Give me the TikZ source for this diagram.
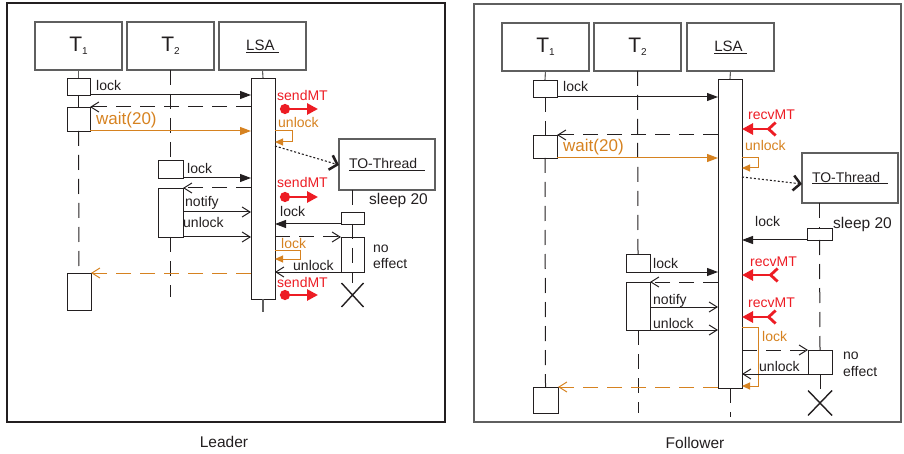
\documentclass[tikz,border=0pt]{standalone}
\usepackage{fontspec}
\setmainfont{Liberation Sans}
\usetikzlibrary{arrows.meta,shapes.misc}

\definecolor{inkgray}{RGB}{35,31,32}
\definecolor{boxgray}{RGB}{95,95,95}
\definecolor{lockorange}{RGB}{214,130,32}
\definecolor{mtred}{RGB}{237,28,36}

\newcommand{\tname}[1]{{\fontsize{21}{24}\selectfont T}\raisebox{-3pt}{\fontsize{10}{10}\selectfont #1}}

\tikzset{
  lifebox/.style={draw=boxgray, line width=1.3pt, anchor=north west, inner sep=0pt, outer sep=0pt,
    minimum width=87pt, minimum height=48pt, text=inkgray, font=\fontsize{15}{18}\selectfont},
  threadbox/.style={draw=boxgray, line width=1.1pt, anchor=north west, inner sep=0pt, outer sep=0pt,
    minimum width=96pt, minimum height=51pt, text=inkgray, font=\fontsize{14}{16}\selectfont},
  actbox/.style={draw=inkgray, line width=0.9pt, anchor=north west, inner sep=0pt, outer sep=0pt},
  endmark/.style={cross out, draw=inkgray, line width=1.4pt, inner sep=0pt, outer sep=0pt,
    minimum width=22pt, minimum height=24pt},
  solidline/.style={draw=boxgray, line width=1.1pt},
  lifeline/.style={draw=inkgray, line width=1pt, dash pattern=on 15pt off 9pt},
  callmsg/.style={draw=inkgray, line width=1pt, -{Triangle[length=11pt,width=8pt]}},
  asyncmsg/.style={draw=inkgray, line width=1pt, -{Straight Barb[length=8pt,width=10pt]}},
  retmsg/.style={asyncmsg, dash pattern=on 15pt off 9pt},
  waitmsg/.style={draw=lockorange, line width=1pt, -{Triangle[length=11pt,width=8pt]}},
  orgloop/.style={draw=lockorange, line width=1pt, -{Triangle[length=8pt,width=7pt]}},
  orgret/.style={draw=lockorange, line width=1pt, dash pattern=on 15pt off 9pt, -{Straight Barb[length=8pt,width=10pt]}},
  timermsg/.style={draw=inkgray, line width=1.1pt, dash pattern=on 2pt off 2pt, -{Straight Barb[length=7pt,width=15pt,line width=2.5pt]}},
  sendmt/.style={draw=mtred, line width=2.8pt, {Circle[length=10pt]}-{Triangle[length=11pt,width=11pt]}},
  recvmt/.style={draw=mtred, line width=2.8pt, {Straight Barb[reversed,length=7pt,width=13pt]}-{Triangle[length=11pt,width=11pt]}},
  lbl/.style={anchor=base west, inner sep=0pt, text=inkgray, font=\fontsize{14}{16}\selectfont},
  orglbl/.style={lbl, text=lockorange},
  mtlbl/.style={lbl, text=mtred},
  caption/.style={anchor=base, inner sep=0pt, text=inkgray, font=\fontsize{15.5}{18}\selectfont}
}

\begin{document}
\begin{tikzpicture}[x=1pt,y=-1pt]
\useasboundingbox (0,0) rectangle (904,454);

% Leader
\begin{scope}
\draw[inkgray, line width=1.3pt] (7,3) rectangle (445,422);
\node[caption] (capL) at (224,447) {Leader};

\node[lifebox] (t1L) at (35,22) {\tname{1}};
\node[lifebox] (t2L) at (127,22) {\tname{2}};
\node[lifebox] (lsaL) at (219,22) {\underline{LSA\ }};
\node[threadbox] (toL) at (339,139) {\underline{TO-Thread\ \ }};

\node[actbox, minimum width=23pt, minimum height=17pt] (t1aL) at (67,78) {};
\node[actbox, minimum width=23pt, minimum height=24pt] (t1bL) at (67,107) {};
\node[actbox, minimum width=24pt, minimum height=37pt] (t1cL) at (67,273) {};
\node[actbox, minimum width=25pt, minimum height=18pt] (t2aL) at (158,160) {};
\node[actbox, minimum width=25pt, minimum height=49pt] (t2bL) at (158,188) {};
\node[actbox, minimum width=24pt, minimum height=221pt] (lsaAL) at (251,78) {};
\node[actbox, minimum width=23pt, minimum height=12pt] (slL) at (341,212) {};
\node[actbox, minimum width=23pt, minimum height=35pt] (neL) at (341,237) {};
\node[endmark] (toxL) at (352.5,295) {};
\coordinate (t2endL) at (170.5,297);
\coordinate (lsaendL) at (263,312);

\draw[solidline] (t1L.south) -- (t1aL.north);
\draw[lifeline] (t1aL.south) -- (t1bL.north);
\draw[lifeline] (t1bL.south) -- (t1cL.north);
\draw[lifeline] (t2L.south) -- (t2aL.north);
\draw[lifeline] (t2bL.south) -- (t2endL);
\draw[solidline] (lsaL.south) -- (lsaAL.north);
\draw[solidline] (lsaAL.south) -- (lsaendL);
\draw[lifeline] (slL.north |- toL.south) -- (slL.north);
\draw[lifeline] (slL.south) -- (toxL.north);

\draw[callmsg] (t1aL.south east) -- (t1aL.south east -| lsaAL.west);
\node[lbl] (lock1L) at (96,91) {lock};
\draw[retmsg] (t1bL.north east -| lsaAL.west) -- (t1bL.north east);
\draw[waitmsg] (t1bL.south east) -- (t1bL.south east -| lsaAL.west);
\node[orglbl, font=\fontsize{17}{20}\selectfont] (waitL) at (96,125) {wait(20)};
\node[mtlbl] (mt1L) at (277,101) {sendMT};
\coordinate (s1L) at (280,109);
\draw[sendmt] (s1L) -- ++(38,0);
\node[orglbl] (ul1L) at (278,128) {unlock};
\draw[orgloop] (lsaAL.east |- 0,131) -- ++(17,0) -- ++(0,11) -- ++(-17,0);
\draw[timermsg] (lsaAL.east |- 0,146) -- (toL.west |- 0,165);
\node[mtlbl] (mt2L) at (277,188) {sendMT};
\coordinate (s2L) at (280,197);
\draw[sendmt] (s2L) -- ++(38,0);
\node[lbl, font=\fontsize{15.5}{18}\selectfont] (sleepL) at (369,205) {sleep 20};
\draw[callmsg] (t2aL.south east) -- (t2aL.south east -| lsaAL.west);
\node[lbl] (lock2L) at (187,174) {lock};
\draw[retmsg] (t2bL.north east -| lsaAL.west) -- (t2bL.north east);
\draw[asyncmsg] (t2bL.east |- 0,212) -- (lsaAL.west |- 0,212);
\node[lbl] (notifyL) at (185,207) {notify};
\draw[asyncmsg] (t2bL.south east) -- (t2bL.south east -| lsaAL.west);
\node[lbl] (ul2L) at (183,228) {unlock};
\draw[callmsg] (slL.south west) -- (slL.south west -| lsaAL.east);
\node[lbl] (lock3L) at (280,217) {lock};
\draw[retmsg] (neL.north west -| lsaAL.east) -- (neL.north west);
\node[orglbl] (lock4L) at (281,248) {lock};
\draw[orgloop] (lsaAL.east |- 0,251) -- ++(25,0) -- ++(0,8) -- ++(-25,0);
\draw[asyncmsg] (neL.south west) -- (neL.south west -| lsaAL.east);
\node[lbl] (ul3L) at (293,270) {unlock};
\node[lbl] (noL) at (373,252) {no};
\node[lbl] (effL) at (373,269) {effect};
\node[mtlbl] (mt3L) at (277,287) {sendMT};
\coordinate (s3L) at (280,295);
\draw[sendmt] (s3L) -- ++(38,0);
\draw[orgret] (t1cL.north east -| lsaAL.west) -- (t1cL.north east);
\end{scope}

% Follower
\begin{scope}[shift={(467,0)}]
\draw[boxgray, line width=1.3pt] (7,4) rectangle (434,422);
\node[caption] (capF) at (228,448) {Follower};

\node[lifebox] (t1F) at (35,23) {\tname{1}};
\node[lifebox] (t2F) at (127,23) {\tname{2}};
\node[lifebox] (lsaF) at (220,23) {\underline{LSA\ }};
\node[threadbox, minimum height=50pt] (toF) at (335,153) {\underline{TO-Thread\ \ }};

\node[actbox, minimum width=24pt, minimum height=17pt] (t1aF) at (66,80) {};
\node[actbox, minimum width=24pt, minimum height=23pt] (t1bF) at (66,135) {};
\node[actbox, minimum width=25pt, minimum height=26pt] (t1cF) at (66,387) {};
\node[actbox, minimum width=24pt, minimum height=18pt] (t2aF) at (159,254) {};
\node[actbox, minimum width=24pt, minimum height=48pt] (t2bF) at (159,282) {};
\node[actbox, minimum width=24pt, minimum height=309pt] (lsaAF) at (251,79) {};
\node[actbox, minimum width=25pt, minimum height=12pt] (slF) at (340,228) {};
\node[actbox, minimum width=24pt, minimum height=24pt] (neF) at (341,350) {};
\node[endmark, minimum width=24pt, minimum height=25pt] (toxF) at (353,403) {};
\coordinate (t2endF) at (171,413);
\coordinate (lsaendF) at (263,417);

\draw[solidline] (t1F.south) -- (t1aF.north);
\draw[lifeline] (t1aF.south) -- (t1bF.north);
\draw[lifeline] (t1bF.south) -- (t1cF.north);
\draw[lifeline] (t2F.south) -- (t2aF.north);
\draw[lifeline] (t2bF.south) -- (t2endF);
\draw[solidline] (lsaF.south) -- (lsaAF.north);
\draw[lifeline] (lsaAF.south) -- (lsaendF);
\draw[lifeline] (slF.north |- toF.south) -- (slF.north);
\draw[lifeline] (slF.south) -- (neF.north);
\draw[lifeline] (neF.south) -- (toxF.north);

\draw[callmsg] (t1aF.south east) -- (t1aF.south east -| lsaAF.west);
\node[lbl] (lock1F) at (96,92) {lock};
\draw[retmsg] (t1bF.north east -| lsaAF.west) -- (t1bF.north east);
\draw[waitmsg] (t1bF.south east) -- (t1bF.south east -| lsaAF.west);
\node[orglbl, font=\fontsize{17}{20}\selectfont] (waitF) at (96,152) {wait(20)};
\node[mtlbl] (mt1F) at (281,120) {recvMT};
\coordinate (r1F) at (310,129);
\draw[recvmt] (r1F) -- (lsaAF.east |- r1F);
\node[orglbl] (ul1F) at (278,151) {unlock};
\draw[orgloop] (lsaAF.east |- 0,158) -- ++(16,0) -- ++(0,10) -- ++(-16,0);
\draw[timermsg] (lsaAF.east |- 0,177) -- (toF.west |- 0,184);
\draw[callmsg] (slF.south west) -- (slF.south west -| lsaAF.east);
\node[lbl] (lock3F) at (288,227) {lock};
\node[lbl, font=\fontsize{15.5}{18}\selectfont] (sleepF) at (366,229) {sleep 20};
\node[mtlbl] (mt2F) at (283,266) {recvMT};
\coordinate (r2F) at (312,275);
\draw[recvmt] (r2F) -- (lsaAF.east |- r2F);
\draw[callmsg] (t2aF.south east) -- (t2aF.south east -| lsaAF.west);
\node[lbl] (lock2F) at (186,268) {lock};
\draw[retmsg] (t2bF.north east -| lsaAF.west) -- (t2bF.north east);
\draw[asyncmsg] (t2bF.east |- 0,307) -- (lsaAF.west |- 0,307);
\node[lbl] (notifyF) at (186,304) {notify};
\draw[asyncmsg] (t2bF.south east) -- (t2bF.south east -| lsaAF.west);
\node[lbl] (ul2F) at (186,328) {unlock};
\node[mtlbl] (mt3F) at (281,307) {recvMT};
\coordinate (r3F) at (310,317);
\draw[recvmt] (r3F) -- (lsaAF.east |- r3F);
\node[orglbl] (lock4F) at (295,341) {lock};
\draw[orgloop] (lsaAF.east |- 0,327) -- ++(16,0) -- ++(0,59) -- ++(-16,0);
\draw[retmsg] (neF.north west -| lsaAF.east) -- (neF.north west);
\draw[asyncmsg] (neF.south west) -- (neF.south west -| lsaAF.east);
\node[lbl] (ul3F) at (292,371) {unlock};
\node[lbl] (noF) at (376,359) {no};
\node[lbl] (effF) at (376,376) {effect};
\draw[orgret] (t1cF.north east -| lsaAF.west) -- (t1cF.north east);
\end{scope}
\end{tikzpicture}
\end{document}
